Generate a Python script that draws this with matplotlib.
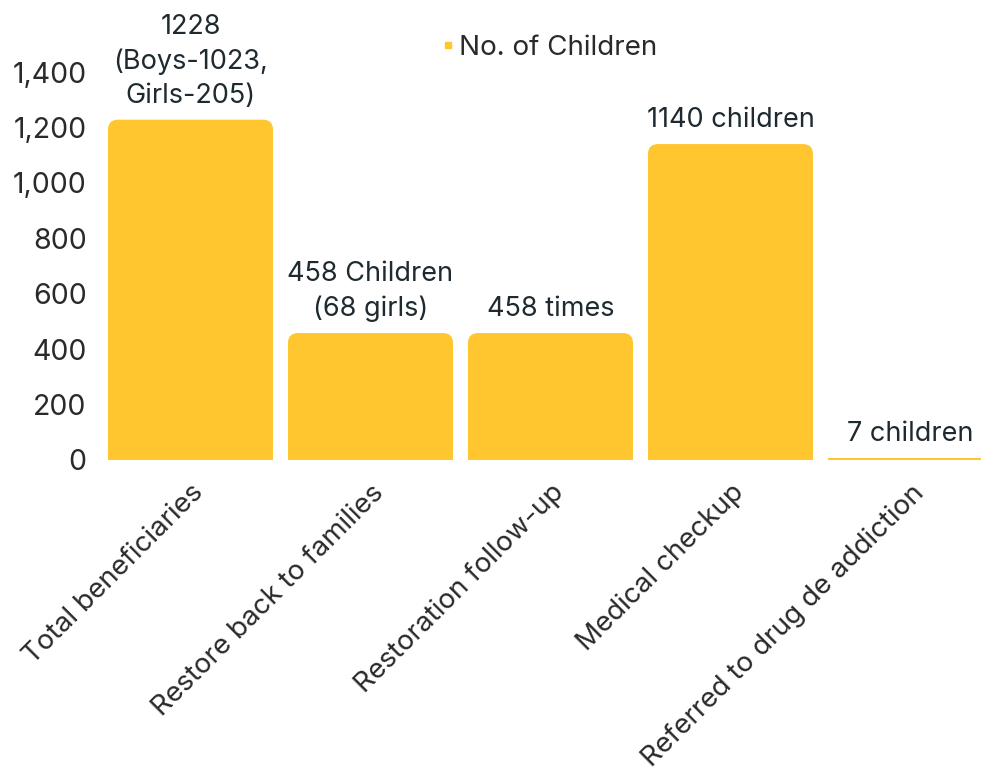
import matplotlib.pyplot as plt
from matplotlib.patches import FancyBboxPatch, Rectangle
from matplotlib.lines import Line2D

plt.rcParams['font.family'] = ['Inter', 'DejaVu Sans']

categories = ['Total beneficiaries', 'Restore back to families', 'Restoration follow-up',
              'Medical checkup', 'Referred to drug de addiction']
values = [1228, 458, 458, 1140, 7]
bar_labels = ['1228\n(Boys-1023,\nGirls-205)', '458 Children\n(68 girls)', '458 times',
              '1140 children', '7 children']
yticks = [0, 200, 400, 600, 800, 1000, 1200, 1400]

bar_color = '#FFC62F'
text_color = '#1E2A30'
tick_color = '#2A2A2A'

fig = plt.figure(figsize=(9.81, 7.78), dpi=100)
ax = fig.add_axes([100.5 / 981, (778 - 460) / 778, 1 - 100.5 / 981, 388 / 778])

x = list(range(len(categories)))
bars = ax.bar(x, values, width=0.917, color=bar_color)
ax.set_xlim(-0.5, 4.392)
ax.set_ylim(0, 1400)

# rounded top corners
px_x = 180.0        # pixels per x unit
px_y = 388 / 1400   # pixels per y unit
r_px = 10
rx = r_px / px_x
ry = r_px / px_y
for b in bars:
    bx, bw, bh = b.get_x(), b.get_width(), b.get_height()
    if bh > 2 * ry:
        b.set_visible(False)
        p = FancyBboxPatch((bx, 0), bw, bh, boxstyle=f'round,pad=0,rounding_size={rx}',
                           mutation_aspect=ry / rx, facecolor=bar_color, edgecolor='none')
        ax.add_patch(p)
        ax.add_patch(Rectangle((bx, 0), bw, ry * 1.5, facecolor=bar_color, edgecolor='none'))

for xi, v, lab in zip(x, values, bar_labels):
    ax.annotate(lab, (xi, v), xytext=(0, 8), textcoords='offset points', ha='center', va='bottom',
                fontsize=19.5, color=text_color, linespacing=1.4, annotation_clip=False)

ax.set_yticks(yticks)
ax.set_yticklabels([f'{t:,}' for t in yticks], fontsize=20.5, color=tick_color)
ax.set_xticks(x)
ax.set_xticklabels(categories, rotation=45, ha='right', va='top', rotation_mode='anchor',
                   fontsize=20, color=tick_color)
ax.tick_params(axis='both', length=0)
ax.tick_params(axis='y', pad=10)
ax.tick_params(axis='x', pad=14)
for s in ax.spines.values():
    s.set_visible(False)

handle = Line2D([], [], marker='s', linestyle='none', markersize=5, color=bar_color)
fig.legend([handle], ['No. of Children'], loc='center', bbox_to_anchor=(549 / 981, 1 - 48 / 778),
           frameon=False, fontsize=20, handlelength=0.5, handletextpad=0.15, labelcolor=tick_color)

fig.savefig('out.png', dpi=100)
